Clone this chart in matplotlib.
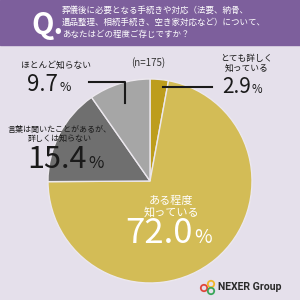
import matplotlib.pyplot as plt
from matplotlib.patches import Rectangle, Circle

plt.rcParams['font.family'] = ['Noto Sans CJK JP', 'DejaVu Sans']

# data, clockwise from the top
labels = ['とても詳しく\n知っている', 'ある程度\n知っている',
          '言葉は聞いたことがあるが、\n詳しくは知らない', 'ほとんど知らない']
values = [2.9, 72.0, 15.4, 9.7]
colors = ['#bd9d1c', '#d3bc56', '#6f6f6f', '#a6a6a6']
n_total = 175
question = ['葬儀後に必要となる手続きや対応（法要、納骨、',
            '遺品整理、相続手続き、空き家対応など）について、',
            'あなたはどの程度ご存じですか？']

bg = '#e5e0eb'
purple = '#7d5f9c'

fig = plt.figure(figsize=(3, 3), dpi=100)
fig.patch.set_facecolor(bg)
ax = fig.add_axes([0, 0, 1, 1])
ax.set_facecolor(bg)


def Y(y):
    # image rows -> data y
    return 300 - y


ax.pie(values, colors=colors, startangle=90, counterclock=False,
       center=(150, Y(181)), radius=102, frame=True,
       wedgeprops=dict(edgecolor='#ece8ee', linewidth=1))
ax.set_xlim(0, 300)
ax.set_ylim(0, 300)
ax.set_aspect('auto')
ax.axis('off')

# header band
ax.add_patch(Rectangle((0, Y(45)), 300, 45, color=purple, zorder=0.5))
ax.text(31, Y(25), 'Q.', color='white', fontsize=21, fontweight='bold',
        ha='left', va='center')
for i, line in enumerate(question):
    ax.text(62, Y(10 + i * 12.3), line, color='white', fontsize=6.1,
            ha='left', va='center')

ax.text(148, Y(63), f'(n={n_total})', color='#333333', fontsize=7,
        ha='center', va='center')


def pct(x, y, v, size, color):
    ax.text(x, Y(y), f'{v:.1f}', fontsize=size, color=color,
            ha='right', va='baseline')
    ax.text(x + 1, Y(y), '%', fontsize=size * 0.55, color=color,
            ha='left', va='baseline')


dark = '#1a1a1a'
# とても詳しく
ax.text(247, Y(63), labels[0], fontsize=6.3, color=dark, ha='center',
        va='center', linespacing=1.1)
pct(251, 93, values[0], 15, dark)
ax.plot([163, 212], [Y(87), Y(87)], color=dark, lw=1.5)

# ある程度
ax.text(171, Y(207), labels[1], fontsize=8, color='white', ha='center',
        va='center', linespacing=1.1)
pct(193, 243, values[1], 25, 'white')

# 言葉は聞いた...
ax.text(60, Y(134), labels[2], fontsize=5.8, color=dark, ha='center',
        va='center', linespacing=1.1)
pct(87, 168, values[2], 22, dark)

# ほとんど知らない
ax.text(56, Y(65), labels[3], fontsize=6.3, color=dark, ha='center',
        va='center')
pct(58, 91, values[3], 16, dark)
ax.plot([89, 125, 125], [Y(82), Y(82), Y(103)], color=dark, lw=1.5)

# logo
for cx, cy, c in [(204, 288, '#e0463c'), (211, 284, '#f0b52a'),
                  (211, 291, '#3aa65a')]:
    ax.add_patch(Circle((cx, Y(cy)), 3.2, fill=False, edgecolor=c, lw=1.3))
ax.text(218, Y(287), 'NEXER Group', fontsize=7.6, fontweight='bold',
        color='#2a2a2a', ha='left', va='center', family='Roboto')

fig.savefig('out.png', dpi=100, facecolor=bg)
